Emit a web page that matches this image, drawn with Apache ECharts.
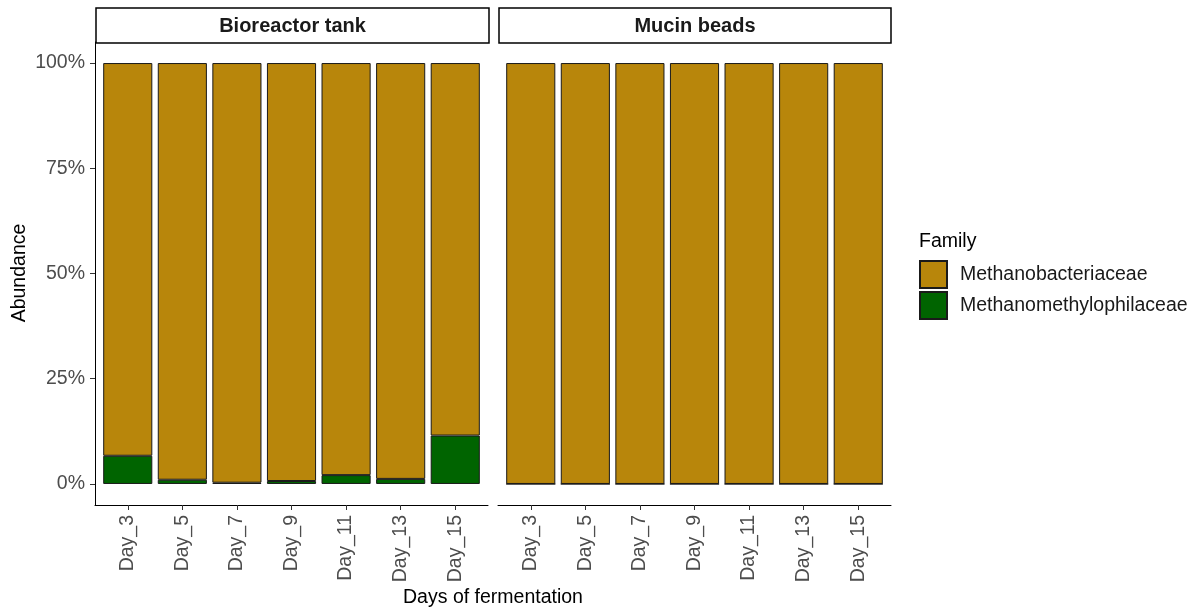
<!DOCTYPE html>
<html>
<head>
<meta charset="utf-8">
<script src="https://cdn.jsdelivr.net/npm/echarts@6/dist/echarts.min.js"></script>
<style>html,body{margin:0;padding:0;background:#fff}#c{width:1197px;height:611px}</style>
</head>
<body>
<div id="c"></div>
<script>
const days = ['Day_3','Day_5','Day_7','Day_9','Day_11','Day_13','Day_15'];
const panels = ['Bioreactor tank','Mucin beads'];
const families = ['Methanobacteriaceae','Methanomethylophilaceae'];
const colors = ['#B8860B','#006400'];
// abundance (%) per panel
const bioBacteria = [93.3, 99.0, 99.7, 99.3, 97.9, 98.8, 88.5];
const bioMethylo  = [6.7, 1.0, 0.3, 0.7, 2.1, 1.2, 11.5];
const mucBacteria = [100, 100, 100, 100, 100, 100, 100];
const mucMethylo  = [0, 0, 0, 0, 0, 0, 0];
const yTicks = [0, 25, 50, 75, 100];

const FONT = '"Liberation Sans", Arial, sans-serif';
const FS = 19.5;
const idx = days.map((d,i)=>i);

const grids = [
  {left:95, top:42, width:393, height:463},
  {left:498, top:42, width:393, height:463}
];

function xAxis(g){
  return {
    type:'value', gridIndex:g, min:-0.6, max:6.6,
    splitLine:{show:false},
    axisLine:{show:true, onZero:false, lineStyle:{color:'#000', width:1}},
    axisTick:{show:true, customValues:idx, length:5, lineStyle:{color:'#333'}},
    axisLabel:{customValues:idx, formatter:v=>days[Math.round(v)], rotate:90, margin:10,
      color:'#4D4D4D', fontSize:FS, fontFamily:FONT}
  };
}
function yAxis(g, show){
  return {
    type:'value', gridIndex:g, min:-5, max:105, show:show,
    splitLine:{show:false},
    axisLine:{show:true, onZero:false, lineStyle:{color:'#000', width:1}},
    axisTick:{show:true, customValues:yTicks, length:5, lineStyle:{color:'#333'}},
    axisLabel:{customValues:yTicks, formatter:v=>v+'%', margin:10,
      color:'#4D4D4D', fontSize:FS, fontFamily:FONT}
  };
}
function bar(name, g, vals, color){
  return {
    type:'bar', name:name, xAxisIndex:g, yAxisIndex:g, stack:'s'+g,
    barWidth:'90%',
    encode:{x:1, y:0},
    data: vals.map((v,i)=>[v, i]),
    itemStyle:{color:color, borderColor:'#1a1a1a', borderWidth:1}
  };
}

const chart = echarts.init(document.getElementById('c'), null, {renderer:'canvas'});
chart.setOption({
  animation:false,
  backgroundColor:'#fff',
  grid: grids,
  xAxis:[xAxis(0), xAxis(1)],
  yAxis:[yAxis(0,true), yAxis(1,false)],
  legend:{
    orient:'vertical', left:919, top:260, padding:0, itemWidth:27, itemHeight:27, itemGap:2,
    icon:'rect', data:families,
    textStyle:{fontSize:FS, color:'#1a1a1a', fontFamily:FONT, padding:[0,0,0,8]}
  },
  series:[
    bar(families[1], 0, bioMethylo, colors[1]),
    bar(families[0], 0, bioBacteria, colors[0]),
    bar(families[1], 1, mucMethylo, colors[1]),
    bar(families[0], 1, mucBacteria, colors[0])
  ],
  graphic:[
    {type:'rect', shape:{x:96, y:8, width:393, height:35}, style:{fill:'#fff', stroke:'#000', lineWidth:1.5}},
    {type:'rect', shape:{x:499, y:8, width:392, height:35}, style:{fill:'#fff', stroke:'#000', lineWidth:1.5}},
    {type:'text', x:292.5, y:26, style:{text:panels[0], font:'bold 20px '+FONT, fill:'#1a1a1a', textAlign:'center', textVerticalAlign:'middle'}},
    {type:'text', x:695, y:26, style:{text:panels[1], font:'bold 20px '+FONT, fill:'#1a1a1a', textAlign:'center', textVerticalAlign:'middle'}},
    {type:'text', x:493, y:598, style:{text:'Days of fermentation', font:FS+'px '+FONT, fill:'#000', textAlign:'center', textVerticalAlign:'middle'}},
    {type:'text', x:20, y:273, rotation:Math.PI/2, style:{text:'Abundance', font:FS+'px '+FONT, fill:'#000', textAlign:'center', textVerticalAlign:'middle'}},
    {type:'text', x:919, y:242, style:{text:'Family', font:FS+'px '+FONT, fill:'#000', textAlign:'left', textVerticalAlign:'middle'}}
  ]
});
</script>
</body>
</html>
